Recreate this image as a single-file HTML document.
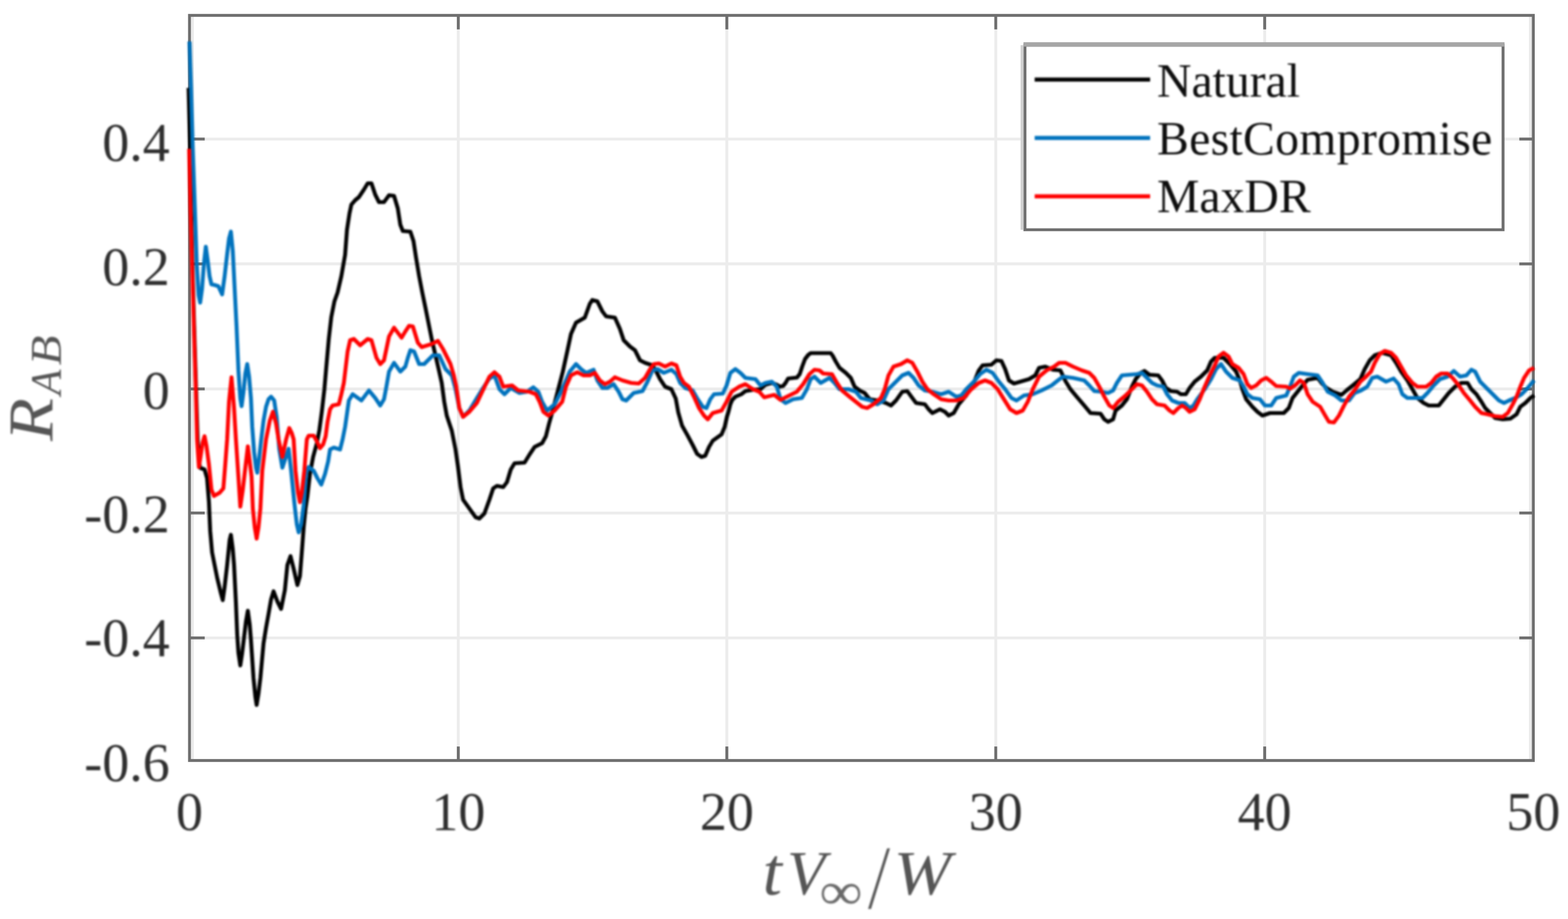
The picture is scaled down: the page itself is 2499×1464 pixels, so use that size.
<!DOCTYPE html>
<html lang="en"><head><meta charset="utf-8"><title>R_AB correlation</title>
<style>
html,body{margin:0;padding:0;background:#fff;}
body{width:2499px;height:1464px;overflow:hidden;}
svg{display:block;}
.soft{filter:blur(1.4px);}
text{font-family:"Liberation Serif","DejaVu Serif",serif;}
.tk{font-size:86px;fill:#2e2e2e;}
.lg{font-size:76px;fill:#0d0d0d;}
.ax{font-style:italic;fill:#555555;}
.cv{fill:none;stroke-linejoin:round;stroke-linecap:butt;}
</style></head><body>
<svg width="2499" height="1464" viewBox="0 0 2499 1464">
<rect x="0" y="0" width="2499" height="1464" fill="#ffffff"/>
<g stroke="#ececec" stroke-width="4.6" fill="none">
<line x1="730.4" y1="24.5" x2="730.4" y2="1211.5"/>
<line x1="1158.4" y1="24.5" x2="1158.4" y2="1211.5"/>
<line x1="1587.0" y1="24.5" x2="1587.0" y2="1211.5"/>
<line x1="2015.6" y1="24.5" x2="2015.6" y2="1211.5"/>
<line x1="302.0" y1="221.5" x2="2443.7" y2="221.5"/>
<line x1="302.0" y1="420.4" x2="2443.7" y2="420.4"/>
<line x1="302.0" y1="619.6" x2="2443.7" y2="619.6"/>
<line x1="302.0" y1="817.2" x2="2443.7" y2="817.2"/>
<line x1="302.0" y1="1016.2" x2="2443.7" y2="1016.2"/>
</g>
<g stroke="#ebebeb" stroke-width="4.6" fill="none">
<line x1="306.6" y1="24.5" x2="306.6" y2="1211.5"/>
<line x1="2439.1" y1="24.5" x2="2439.1" y2="1211.5"/>
</g>
<g stroke="#6e6e6e" stroke-width="4.6" fill="none">
<line x1="730.4" y1="1211.5" x2="730.4" y2="1189.2"/>
<line x1="730.4" y1="24.5" x2="730.4" y2="46.8"/>
<line x1="1158.4" y1="1211.5" x2="1158.4" y2="1189.2"/>
<line x1="1158.4" y1="24.5" x2="1158.4" y2="46.8"/>
<line x1="1587.0" y1="1211.5" x2="1587.0" y2="1189.2"/>
<line x1="1587.0" y1="24.5" x2="1587.0" y2="46.8"/>
<line x1="2015.6" y1="1211.5" x2="2015.6" y2="1189.2"/>
<line x1="2015.6" y1="24.5" x2="2015.6" y2="46.8"/>
<line x1="302.0" y1="221.5" x2="326.3" y2="221.5"/>
<line x1="2443.7" y1="221.5" x2="2421.4" y2="221.5"/>
<line x1="302.0" y1="420.4" x2="326.3" y2="420.4"/>
<line x1="2443.7" y1="420.4" x2="2421.4" y2="420.4"/>
<line x1="302.0" y1="619.6" x2="326.3" y2="619.6"/>
<line x1="2443.7" y1="619.6" x2="2421.4" y2="619.6"/>
<line x1="302.0" y1="817.2" x2="326.3" y2="817.2"/>
<line x1="2443.7" y1="817.2" x2="2421.4" y2="817.2"/>
<line x1="302.0" y1="1016.2" x2="326.3" y2="1016.2"/>
<line x1="2443.7" y1="1016.2" x2="2421.4" y2="1016.2"/>
</g>
<rect x="302.0" y="24.5" width="2141.7" height="1187.0" fill="none" stroke="#6e6e6e" stroke-width="4.6"/>
<g class="soft">
<polyline class="cv" stroke="#000000" stroke-width="6.2" points="300.5,140 303,232 304.5,330 306.5,420 309.5,520 312.5,620 315,700 318.5,745 326,748 330,762 333,800 335,846 338,880 346,920 352,945 355,956 358,935 362,900 366,860 368,852 371,875 373,900 376,960 378,1010 380,1040 383,1060 386,1040 389,1015 392,990 395,973 398,995 400,1020 404,1080 407,1110 409,1123 412,1105 415,1080 420,1025 424,1000 428,978 432,955 436,942 442,958 448,970 454,940 458,900 463,886 468,906 474,932 478,918 481,880 484,840 487,810 490,790 494,755 499,728 505,706 509,685 513,655 517,620 520,585 524,540 528,505 533,480 538,466 544,440 550,406 553,366 557,340 560,326 566,319 572,314 580,302 586,292 592,292 598,310 604,322 612,322 620,311 628,312 634,332 638,358 642,368 654,369 659,384 663,410 668,440 673,466 678,490 682,510 688,540 694,566 700,592 704,610 708,640 712,662 720,686 726,716 730,744 734,776 738,796 748,810 758,824 764,826 772,818 780,796 786,778 792,774 802,776 808,768 814,748 820,738 836,737 844,724 852,712 864,706 870,695 875,675 879,661 885,638 891,615 897,592 904,560 910,532 918,514 932,506 940,484 944,478 952,480 960,496 966,504 980,506 988,524 994,542 1004,552 1012,558 1020,574 1028,578 1040,582 1046,592 1052,604 1060,616 1070,620 1077,635 1081,657 1087,678 1096,694 1104,709 1111,723 1118,728 1124,726 1130,712 1136,702 1150,692 1155,680 1158.5,664 1161,656 1164,644 1167,637 1172,632 1181.5,628 1188,623 1200,621 1212,620 1220,613 1230,610 1238,613 1243,616 1248,615 1252,610 1256,603 1270,601.5 1274.5,596 1278.5,584 1283,572 1288,565.5 1292,562.5 1324,562.5 1327,566.5 1332,576 1338,586 1348,594 1356,602 1362,616 1370,622 1378,626 1386,636 1400,638 1412,642 1420,646 1428,638 1438,624 1446,623 1454,634 1460,642 1474,644 1480,652 1486,658 1498,652 1506,656 1512,662 1520,658 1528,644 1540,630 1552,610 1560,590 1566,582 1580,581 1588,574 1596,575 1602,588 1608,606 1616,611 1640,604 1650,598 1656,586 1666,584 1678,589 1690,590 1698,607 1706,620 1716,632 1728,646 1738,658 1754,659 1760,668 1766,672 1774,668 1778,654 1788,646 1796,636 1804,616 1810,604 1818,594 1824,591 1832,597 1846,598 1852,606 1858,618 1866,623 1876,624 1882,628 1890,628 1896,618 1904,608 1914,600 1924,590 1930,576 1936,570 1950,570 1960,580 1970,592 1976,606 1980,620 1986,636 1996,648 2004,656 2012,662 2024,658 2046,658 2054,650 2060,634 2068,624 2076,614 2084,605 2100,602 2106,610 2114,618 2124,624 2138,629 2146,622 2156,614 2168,604 2175,588 2183,574 2191,566 2203,562 2217,566 2225,578 2233,592 2243,606 2251,620 2259,634 2269,642 2277,646 2293,646 2301,636 2309,626 2319,616 2329,610 2339,610 2345,620 2353,628 2361,640 2367,650 2373,656 2383,666 2395,668 2407,667 2417,660 2423,648 2431,642 2439,634 2445,630"/>
<polyline class="cv" stroke="#0072bd" stroke-width="6.2" points="302,66 304.5,140 307,230 310.5,330 313.5,420 316.5,470 319,482 322,460 325,420 328,393 331,415 334,440 337,453 342,454 348,456 354,469 358,440 362,405 365,380 368,369 371,400 374,460 377,520 380,590 383,635 385,647 388,625 391,595 394,580 397,600 400,635 402,680 405,720 408,745 410,753 413,730 416,703 420,670 424,648 428,636 432,632 437,638 441,665 445,715 450,745 455,730 460,715 464,750 469,800 473,835 476,848 480,835 484,805 488,752 492,744 500,750 506,762 512,772 518,755 523,735 526,716 532,713 542,716 546,700 550,680 556,638 562,628 576,638 588,622 598,634 606,646 612,636 616,615 620,592 628,578 638,592 646,584 650,570 654,558 660,560 668,580 676,580 690,566 700,566 710,588 720,598 726,620 732,650 738,664 748,654 760,634 770,618 780,603 788,598 796,620 804,628 814,618 828,626 840,624 850,617 858,624 864,640 872,654 884,644 896,620 908,592 918,580 926,588 934,594 946,589 952,606 960,618 968,618 978,612 986,624 992,636 998,638 1010,626 1024,623 1032,608 1040,590 1048,588 1058,594 1070,589 1078,596 1084,610 1092,618 1104,622 1112,636 1120,648 1126,650 1132,636 1138,628 1152,627 1158,614 1164,594 1172,588 1180,594 1188,602 1204,604 1212,614 1220,610 1230,608 1238,616 1244,636 1252,642 1264,636 1278,634 1286,620 1292,604 1298,600 1308,610 1322,602 1330,610 1338,620 1352,620 1364,624 1372,634 1388,638 1398,644 1408,638 1416,620 1426,610 1438,598 1448,594 1456,602 1464,614 1474,622 1486,624 1500,628 1512,624 1524,632 1532,630 1540,620 1552,608 1562,596 1572,589 1582,594 1592,608 1602,620 1612,634 1620,638 1632,630 1646,628 1660,622 1676,614 1686,606 1694,600 1710,602 1728,606 1736,614 1744,623 1756,624 1766,626 1774,622 1780,610 1788,598 1800,597 1812,596 1820,594 1828,602 1836,610 1844,614 1854,616 1860,628 1868,638 1878,642 1888,642 1896,650 1902,646 1908,636 1920,620 1930,604 1938,588 1946,580 1954,592 1964,602 1976,606 1982,616 1988,628 1996,634 2008,636 2016,646 2026,646 2034,634 2050,630 2056,616 2062,600 2070,594 2084,596 2100,598 2108,610 2116,624 2128,630 2138,638 2150,638 2159,626 2169,622 2179,616 2187,602 2195,600 2209,608 2221,603 2229,612 2235,628 2243,634 2267,634 2275,626 2285,614 2295,604 2307,600 2317,591 2327,600 2337,598 2345,589 2351,592 2359,608 2369,618 2379,628 2389,638 2397,642 2405,638 2415,634 2425,628 2433,620 2445,606"/>
<polyline class="cv" stroke="#ff0000" stroke-width="6.2" points="301.5,237 303.5,330 306,420 309,520 312,620 314,700 317,744 320,725 323,705 326,695 329,710 333,740 337,780 341,790 350,785 356,778 359,740 362,700 365,640 369,601 373,650 376,700 380,760 383,807 387,780 391,745 395,711 398,735 401,760 403,810 406,840 409,858 412,840 415,810 418,750 424,700 430,670 435,656 440,675 444,700 450,728 456,700 461,682 465,690 468,700 471,750 475,785 478,800 481,785 485,750 489,700 492,694 500,694 506,705 510,714 515,708 519,695 522,672 526,652 530,646 540,644 544,628 548,610 551,585 554,560 558,542 564,540 574,550 586,540 592,542 596,556 600,570 606,580 612,574 616,555 620,536 628,522 640,538 646,528 652,519 658,520 662,533 666,546 672,553 688,548 698,543 706,556 712,568 718,580 723,597 727,615 732,650 738,664 748,656 760,642 770,621 780,600 788,593 796,600 802,616 816,614 826,622 844,624 854,628 860,640 866,656 874,662 884,654 896,640 902,616 910,598 920,593 930,598 940,598 948,594 956,606 964,612 972,608 980,601 992,606 1006,610 1018,611 1028,602 1036,588 1042,580 1050,579 1060,584 1070,579 1078,582 1084,600 1090,610 1098,616 1106,632 1114,650 1122,662 1128,668 1136,658 1150,654 1158,640 1166,624 1178,616 1188,612 1200,620 1210,624 1218,633 1234,629 1244,637 1254,632 1270,624 1280,612 1290,596 1298,589 1306,590 1312,595 1326,596 1334,610 1342,622 1354,632 1364,640 1374,648 1382,650 1392,644 1404,634 1410,620 1416,598 1424,584 1436,580 1446,574 1454,578 1462,592 1470,608 1478,620 1488,628 1500,636 1512,638 1524,638 1536,634 1548,620 1560,610 1570,606 1580,610 1590,620 1600,636 1610,652 1620,658 1630,654 1638,640 1646,620 1656,600 1668,590 1680,584 1688,578 1698,578 1710,584 1724,590 1736,594 1744,602 1752,616 1760,632 1768,646 1774,650 1782,640 1794,630 1804,620 1812,612 1820,614 1828,624 1836,636 1844,644 1856,646 1864,654 1870,658 1878,650 1884,646 1890,650 1896,656 1904,652 1912,636 1920,616 1928,598 1936,582 1942,568 1950,562 1958,568 1964,580 1974,586 1982,596 1988,612 1994,618 2002,614 2010,606 2018,602 2026,608 2034,615 2050,616 2056,619 2064,614 2072,606 2078,610 2084,628 2092,640 2104,648 2112,662 2118,672 2126,673 2134,662 2142,646 2150,632 2160,620 2168,608 2175,602 2185,592 2191,578 2199,564 2207,559 2217,562 2225,570 2233,584 2241,598 2251,610 2259,616 2273,616 2281,610 2289,600 2297,595 2307,595 2315,602 2325,614 2333,626 2343,638 2351,648 2361,658 2371,660 2383,663 2395,664 2403,658 2411,644 2417,632 2423,616 2429,602 2437,590 2445,586"/>
</g>
<rect x="1633.5" y="72.0" width="762.0" height="294.0" fill="#ffffff" stroke="#6e6e6e" stroke-width="4.6"/>
<line x1="1631.2" y1="70.8" x2="2397.8" y2="70.8" stroke="#a6a6a6" stroke-width="7.0"/>
<line x1="1628.9" y1="72.0" x2="1628.9" y2="366.0" stroke="#d0d0d0" stroke-width="4.6"/>
<g class="soft">
<line x1="1649" y1="126.8" x2="1833" y2="126.8" stroke="#000000" stroke-width="6.4"/>
<line x1="1649" y1="219.8" x2="1833" y2="219.8" stroke="#0072bd" stroke-width="6.4"/>
<line x1="1649" y1="312.8" x2="1833" y2="312.8" stroke="#ff0000" stroke-width="6.4"/>
<text class="lg" x="1844" y="153.5">Natural</text>
<text class="lg" x="1844" y="245.5" letter-spacing="0.5">BestCompromise</text>
<text class="lg" x="1844" y="337.5">MaxDR</text>
<text class="tk" x="302.0" y="1321.5" text-anchor="middle">0</text>
<text class="tk" x="730.4" y="1321.5" text-anchor="middle">10</text>
<text class="tk" x="1158.4" y="1321.5" text-anchor="middle">20</text>
<text class="tk" x="1587.0" y="1321.5" text-anchor="middle">30</text>
<text class="tk" x="2015.6" y="1321.5" text-anchor="middle">40</text>
<text class="tk" x="2443.7" y="1321.5" text-anchor="middle">50</text>
<text class="tk" x="270.5" y="255.5" text-anchor="end">0.4</text>
<text class="tk" x="270.5" y="453.5" text-anchor="end">0.2</text>
<text class="tk" x="270.5" y="650.5" text-anchor="end">0</text>
<text class="tk" x="270.5" y="847.5" text-anchor="end">-0.2</text>
<text class="tk" x="270.5" y="1045.0" text-anchor="end">-0.4</text>
<text class="tk" x="270.5" y="1243.5" text-anchor="end">-0.6</text>
<text class="ax"><tspan x="1215.6" y="1424.5" font-size="108" textLength="30.7" lengthAdjust="spacingAndGlyphs">t</tspan><tspan x="1254.3" y="1424.0" font-size="100" textLength="61.1" lengthAdjust="spacingAndGlyphs">V</tspan><tspan x="1305.9" y="1447.9" font-size="84" textLength="68.5" lengthAdjust="spacingAndGlyphs" font-style="normal" fill="#6a6a6a">&#8734;</tspan><tspan x="1387.5" y="1447.2" font-size="145" textLength="24.3" lengthAdjust="spacingAndGlyphs">/</tspan><tspan x="1424.2" y="1424.0" font-size="100" textLength="91.6" lengthAdjust="spacingAndGlyphs">W</tspan></text>
<text class="ax" transform="rotate(-90)"><tspan x="-702.4" y="83.5" font-size="102" textLength="68.4" lengthAdjust="spacingAndGlyphs">R</tspan><tspan x="-629.3" y="96.5" font-size="70" textLength="40.6" lengthAdjust="spacingAndGlyphs">A</tspan><tspan x="-582.0" y="96.5" font-size="70" textLength="47.5" lengthAdjust="spacingAndGlyphs">B</tspan></text>
</g>
</svg>
</body></html>
